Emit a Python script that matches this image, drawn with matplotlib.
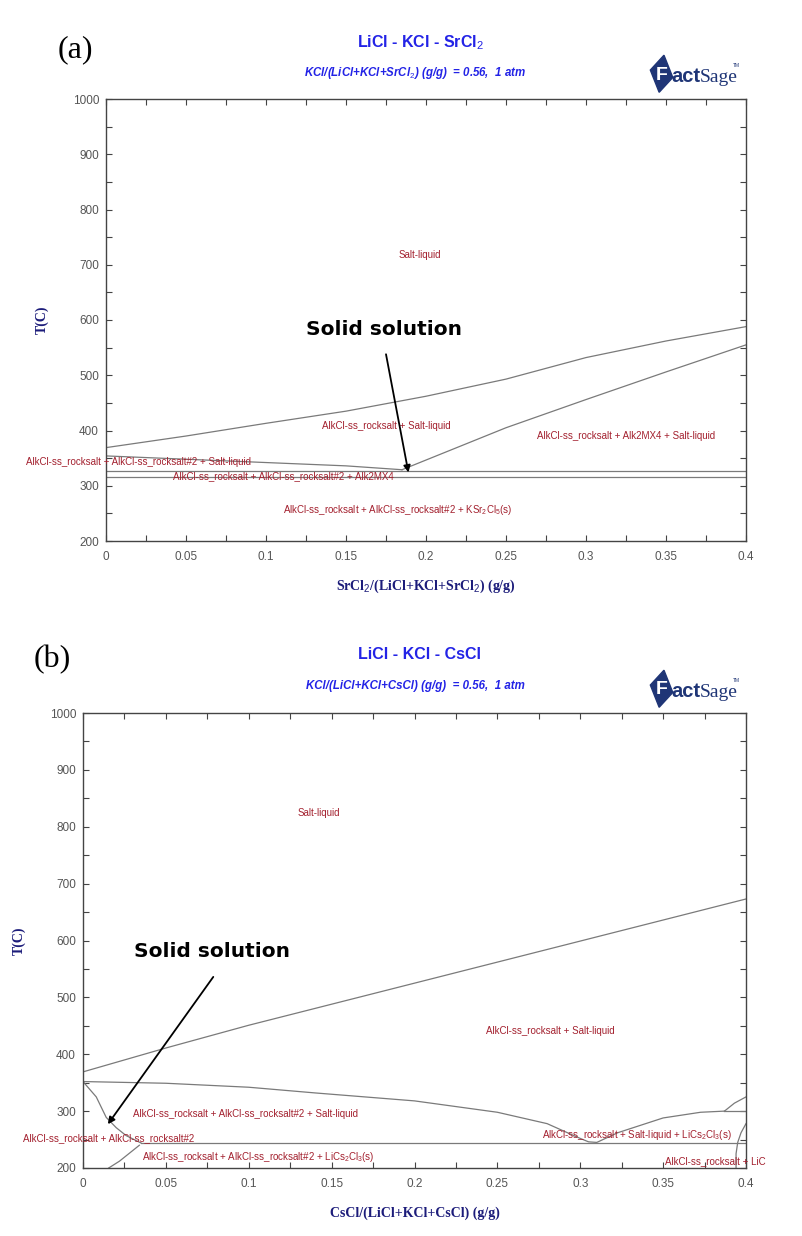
import numpy as np
import matplotlib
matplotlib.use('Agg')
import matplotlib.pyplot as plt
from matplotlib.ticker import MultipleLocator, FormatStrFormatter
from matplotlib.patches import Polygon

# ---------------------------------------------------------------------------
# data (read off the two FactSage sections)
# ---------------------------------------------------------------------------
# (a) LiCl - KCl - SrCl2
liq_a_x = [0, 0.05, 0.1, 0.15, 0.2, 0.25, 0.3, 0.35, 0.4]
liq_a_t = [369, 390, 413, 435, 462, 493, 532, 562, 588]
alk2mx4_a_x = [0.185, 0.25, 0.3, 0.35, 0.4]
alk2mx4_a_t = [329, 405, 456, 506, 555]
ss2_a_x = [0, 0.05, 0.1, 0.15, 0.185]
ss2_a_t = [354, 348, 342, 336, 329]
iso_a = [327, 316]
labels_a = [
    ('Salt-liquid', 0.196, 718),
    ('AlkCl-ss_rocksalt + Salt-liquid', 0.175, 408),
    ('AlkCl-ss_rocksalt + Alk2MX4 + Salt-liquid', 0.325, 390),
    ('AlkCl-ss_rocksalt + AlkCl-ss_rocksalt#2 + Salt-liquid', 0.02, 343),
    ('AlkCl-ss_rocksalt + AlkCl-ss_rocksalt#2 + Alk2MX4', 0.111, 318),
    ('AlkCl-ss_rocksalt + AlkCl-ss_rocksalt#2 + KSr$_2$Cl$_5$(s)', 0.182, 256),
]
arrow_a = ((0.175, 538), (0.189, 324))
note_a = (0.174, 582)

# (b) LiCl - KCl - CsCl
liq_b_x = [0, 0.05, 0.1, 0.15, 0.2, 0.25, 0.3, 0.35, 0.4]
liq_b_t = [369, 411, 451, 488, 525, 562, 599, 636, 673]
ss2_b_x = [0, 0.05, 0.1, 0.14, 0.2, 0.25, 0.28, 0.3, 0.305, 0.31, 0.3226, 0.35, 0.3726, 0.387]
ss2_b_t = [352, 349, 342, 332, 318, 298, 278, 252, 246, 245, 262, 288, 298, 300]
solvus_b_x = [0, 0.008, 0.014, 0.02, 0.026, 0.035]
solvus_b_t = [352, 325, 289, 271, 257, 244]
low_b_x = [0.0155, 0.022, 0.028, 0.034]
low_b_t = [200, 212, 226, 240]
iso_b_x = [0.035, 0.4]
iso_b_t = [244, 244]
top_b_x = [0.387, 0.4]
top_b_t = [300, 300]
rise_b_x = [0.387, 0.393, 0.4]
rise_b_t = [300, 314, 325]
arc_b_x = [0.4, 0.397, 0.395, 0.394, 0.394]
arc_b_t = [278, 262, 245, 225, 200]
labels_b = [
    ('Salt-liquid', 0.142, 824, 'center'),
    ('AlkCl-ss_rocksalt + Salt-liquid', 0.282, 441, 'center'),
    ('AlkCl-ss_rocksalt + AlkCl-ss_rocksalt#2 + Salt-liquid', 0.098, 295, 'center'),
    ('AlkCl-ss_rocksalt + AlkCl-ss_rocksalt#2', 0.0153, 252, 'center'),
    ('AlkCl-ss_rocksalt + AlkCl-ss_rocksalt#2 + LiCs$_2$Cl$_3$(s)', 0.106, 219, 'center'),
    ('AlkCl-ss_rocksalt + Salt-liquid + LiCs$_2$Cl$_3$(s)', 0.334, 258, 'center'),
    ('AlkCl-ss_rocksalt + LiC', 0.351, 212, 'left'),
]
arrow_b = ((0.0786, 536), (0.015, 277))
note_b = (0.078, 580)

# ---------------------------------------------------------------------------
W, H = 802, 1236
LINE = '#7a7a7a'
RED = '#a3202e'
BLUE = '#2323e6'
NAVY = '#1c1c7a'
TICK = '#555555'
LOGO = '#1f3576'

plt.rcParams['font.family'] = ['Liberation Sans', 'DejaVu Sans']
plt.rcParams['mathtext.fontset'] = 'custom'
plt.rcParams['mathtext.rm'] = 'Liberation Sans'

fig = plt.figure(figsize=(W / 100, H / 100), dpi=100)


def px_ax(left, top, right, bottom):
    return fig.add_axes([left / W, 1 - bottom / H, (right - left) / W, (bottom - top) / H])


def style_axes(ax):
    ax.set_xlim(0, 0.4)
    ax.set_ylim(200, 1000)
    ax.xaxis.set_major_locator(MultipleLocator(0.05))
    ax.xaxis.set_minor_locator(MultipleLocator(0.025))
    ax.yaxis.set_major_locator(MultipleLocator(100))
    ax.yaxis.set_minor_locator(MultipleLocator(50))
    ax.xaxis.set_major_formatter(FormatStrFormatter('%g'))
    ax.tick_params(which='both', direction='in', top=True, right=True,
                   length=4, width=0.8, color='#444444',
                   labelsize=8.5, labelcolor=TICK)
    ax.tick_params(axis='x', pad=7)
    ax.tick_params(axis='y', pad=5)
    for s in ax.spines.values():
        s.set_color('#444444')
        s.set_linewidth(1.0)


def draw_logo(xc, yc):
    # small FactSage mark: navy tilted square with the wordmark
    x0, y0 = xc / W, 1 - yc / H
    sq = Polygon([(x0 - 0.032, y0 + 0.004), (x0 - 0.015, y0 + 0.016),
                  (x0 - 0.004, y0 - 0.002), (x0 - 0.021, y0 - 0.014)],
                 closed=True, transform=fig.transFigure, color=LOGO)
    fig.patches.append(sq)
    fig.text(x0 - 0.018, y0, 'F', color='white', fontsize=14, fontweight='bold',
             ha='center', va='center')
    fig.text(x0 - 0.006, y0 - 0.001, 'act', color=LOGO, fontsize=14.5,
             fontweight='bold', ha='left', va='center')
    fig.text(x0 + 0.029, y0 - 0.002, 'Sage', color=LOGO, fontsize=14,
             family='Liberation Serif', ha='left', va='center')
    fig.text(x0 + 0.071, y0 + 0.008, 'TM', color=LOGO, fontsize=3.5,
             ha='left', va='center')


def line(ax, x, t):
    ax.plot(x, t, color=LINE, lw=0.9)


def note(ax, xy, tail, tip):
    ax.annotate('', xy=tip, xytext=tail,
                arrowprops=dict(arrowstyle='-|>', color='black', lw=1.3,
                                mutation_scale=10, shrinkA=0, shrinkB=0))
    ax.text(xy[0], xy[1], 'Solid solution', fontsize=14.5, fontweight='bold',
            family='DejaVu Sans', ha='center', va='center')


# ---------------------------------------------------------------------------
# (a)
# ---------------------------------------------------------------------------
ax1 = px_ax(106, 99, 746, 541)
style_axes(ax1)
line(ax1, liq_a_x, liq_a_t)
line(ax1, alk2mx4_a_x, alk2mx4_a_t)
line(ax1, ss2_a_x, ss2_a_t)
for t in iso_a:
    line(ax1, [0, 0.4], [t, t])
for txt, x, t in labels_a:
    ax1.text(x, t, txt, color=RED, fontsize=7.0, ha='center', va='center',
             clip_on=False)
note(ax1, note_a, arrow_a[0], arrow_a[1])
ax1.set_xlabel('SrCl$_2$/(LiCl+KCl+SrCl$_2$) (g/g)', family='Liberation Serif',
               fontweight='bold', fontsize=10, color=NAVY, labelpad=11)
ax1.set_ylabel('T(C)', family='Liberation Serif', fontweight='bold',
               fontsize=10, color=NAVY, labelpad=17)

fig.text(75 / W, 1 - 50 / H, '(a)', family='Liberation Serif', fontsize=23,
         ha='center', va='center')
fig.text(420 / W, 1 - 43 / H, 'LiCl - KCl - SrCl$_2$', color=BLUE, fontsize=11.5,
         fontweight='bold', ha='center', va='center')
fig.text(415 / W, 1 - 73 / H, 'KCl/(LiCl+KCl+SrCl$_2$) (g/g)  = 0.56,  1 atm',
         color=BLUE, fontsize=8.3, fontweight='bold', fontstyle='italic',
         ha='center', va='center')
draw_logo(676, 75)

# ---------------------------------------------------------------------------
# (b)
# ---------------------------------------------------------------------------
ax2 = px_ax(83, 713, 746, 1168)
style_axes(ax2)
line(ax2, liq_b_x, liq_b_t)
line(ax2, ss2_b_x, ss2_b_t)
line(ax2, solvus_b_x, solvus_b_t)
line(ax2, low_b_x, low_b_t)
line(ax2, iso_b_x, iso_b_t)
line(ax2, top_b_x, top_b_t)
line(ax2, rise_b_x, rise_b_t)
line(ax2, arc_b_x, arc_b_t)
for txt, x, t, ha in labels_b:
    ax2.text(x, t, txt, color=RED, fontsize=7.0, ha=ha, va='center',
             clip_on=False)
note(ax2, note_b, arrow_b[0], arrow_b[1])
ax2.set_xlabel('CsCl/(LiCl+KCl+CsCl) (g/g)', family='Liberation Serif',
               fontweight='bold', fontsize=10, color=NAVY, labelpad=12)
ax2.set_ylabel('T(C)', family='Liberation Serif', fontweight='bold',
               fontsize=10, color=NAVY, labelpad=17)

fig.text(52 / W, 1 - 660 / H, '(b)', family='Liberation Serif', fontsize=23,
         ha='center', va='center')
fig.text(420 / W, 1 - 655 / H, 'LiCl - KCl - CsCl', color=BLUE, fontsize=11.5,
         fontweight='bold', ha='center', va='center')
fig.text(415 / W, 1 - 686 / H, 'KCl/(LiCl+KCl+CsCl) (g/g)  = 0.56,  1 atm',
         color=BLUE, fontsize=8.3, fontweight='bold', fontstyle='italic',
         ha='center', va='center')
draw_logo(676, 690)

fig.savefig('out.png', dpi=100)
